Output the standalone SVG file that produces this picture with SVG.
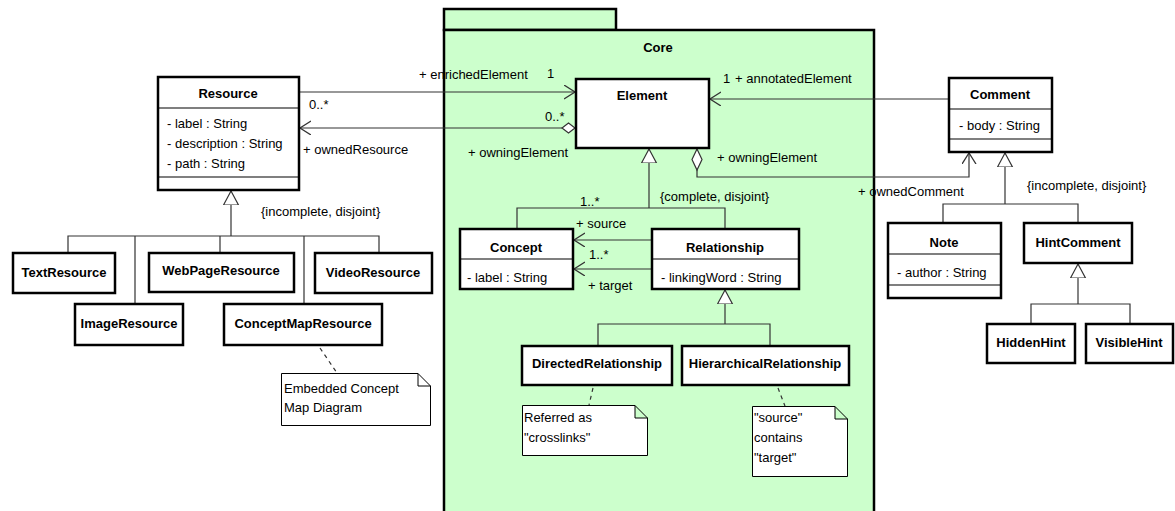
<svg xmlns="http://www.w3.org/2000/svg" width="1175" height="511" viewBox="0 0 1175 511">
  <style>
    .pkg { fill: #ccffcc; stroke: #000; stroke-width: 2.5; }
    .cls { fill: #fff; stroke: #000; stroke-width: 2.5; }
    .div { stroke: #000; stroke-width: 1.2; fill: none; }
    .note { fill: #fff; stroke: #000; stroke-width: 1; }
    .conn { fill: none; stroke: #333; stroke-width: 1.2; }
    .dash { fill: none; stroke: #333; stroke-width: 1.2; stroke-dasharray: 4 4; }
    text { font-family: "Liberation Sans", Arial, sans-serif; font-size: 13px; fill: #000; }
    .name { font-weight: bold; text-anchor: middle; }
  </style>
  <defs>
    <marker id="open" markerUnits="userSpaceOnUse" markerWidth="14" markerHeight="16" refX="11" refY="7" orient="auto" viewBox="0 0 14 16">
      <path d="M0,0 L11,7 L0,14" fill="none" stroke="#333" stroke-width="1.3"/>
    </marker>
    <marker id="gen" markerUnits="userSpaceOnUse" markerWidth="16" markerHeight="18" refX="14" refY="8" orient="auto" viewBox="0 0 16 18">
      <path d="M0,0.5 L14,8 L0,15.5 Z" fill="#fff" stroke="#333" stroke-width="1.2"/>
    </marker>
    <marker id="agg" markerUnits="userSpaceOnUse" markerWidth="16" markerHeight="14" refX="1" refY="6" orient="auto" viewBox="0 0 16 14">
      <path d="M1,6 L7.5,1 L14,6 L7.5,11 Z" fill="#fff" stroke="#333" stroke-width="1.2"/>
    </marker>
    <marker id="agg-long" markerUnits="userSpaceOnUse" markerWidth="24" markerHeight="14" refX="1" refY="6" orient="auto" viewBox="0 0 24 14">
      <path d="M1,6 L11.5,1 L22,6 L11.5,11 Z" fill="#fff" stroke="#333" stroke-width="1.2"/>
    </marker>
  </defs>

  <rect width="1175" height="511" fill="#fff"/>

  <!-- Core package -->
  <g id="core">
    <rect class="pkg" x="444" y="9" width="172" height="21"/>
    <rect class="pkg" x="444" y="30" width="430" height="495"/>
    <text class="name" x="658" y="52">Core</text>
  </g>

  <!-- connectors -->
  <g id="connectors">
    <!-- Resource -> Element (enrichedElement) -->
    <path class="conn" d="M300,92 H575" marker-end="url(#open)"/>
    <!-- Element owns Resource -->
    <path class="conn" d="M575,128 H300" marker-start="url(#agg)" marker-end="url(#open)"/>
    <!-- Comment -> Element (annotatedElement) -->
    <path class="conn" d="M948,99 H710" marker-end="url(#open)"/>
    <!-- Element owns Comment -->
    <path class="conn" d="M697,149 V177 H969 V153" marker-start="url(#agg-long)" marker-end="url(#open)"/>

    <!-- Resource generalization -->
    <path class="conn" d="M231,236 V191" marker-end="url(#gen)"/>
    <path class="conn" d="M68,252 V236 H379 V252 M135,236 V304 M220,236 V252 M304,236 V304"/>

    <!-- Comment generalization -->
    <path class="conn" d="M1005,204 V153" marker-end="url(#gen)"/>
    <path class="conn" d="M943,222 V204 H1078 V222"/>

    <!-- HintComment generalization -->
    <path class="conn" d="M1078,304 V264" marker-end="url(#gen)"/>
    <path class="conn" d="M1031,323 V304 H1130 V323"/>

    <!-- Element generalization -->
    <path class="conn" d="M649,208 V149" marker-end="url(#gen)"/>
    <path class="conn" d="M517,228 V208 H725 V228"/>

    <!-- Relationship -> Concept -->
    <path class="conn" d="M651,240 H574" marker-end="url(#open)"/>
    <path class="conn" d="M651,269 H574" marker-end="url(#open)"/>

    <!-- Relationship generalization -->
    <path class="conn" d="M725,324 V290" marker-end="url(#gen)"/>
    <path class="conn" d="M598,345 V324 H770 V345"/>

    <!-- note anchors -->
    <path class="dash" d="M320,348 L337,373"/>
    <path class="dash" d="M593,388 L589,405"/>
    <path class="dash" d="M778,388 L785,406"/>
  </g>

  <!-- association labels -->
  <g id="labels">
    <text x="419" y="79">+ enrichedElement</text>
    <text x="547" y="78">1</text>
    <text x="309" y="109">0..*</text>
    <text x="303" y="154">+ ownedResource</text>
    <text x="545" y="121">0..*</text>
    <text x="468" y="157">+ owningElement</text>
    <text x="672" y="136">0..*</text>
    <text x="723" y="83">1</text>
    <text x="735" y="83">+ annotatedElement</text>
    <text x="717" y="162">+ owningElement</text>
    <text x="981" y="143">*</text>
    <text x="858" y="196">+ ownedComment</text>
    <text x="1027" y="190">{incomplete, disjoint}</text>
    <text x="261" y="216">{incomplete, disjoint}</text>
    <text x="660" y="201">{complete, disjoint}</text>
    <text x="580" y="206">1..*</text>
    <text x="576" y="228">+ source</text>
    <text x="589" y="259">1..*</text>
    <text x="588" y="290">+ target</text>
  </g>

  <!-- Resource hierarchy -->
  <g id="resource">
    <rect class="cls" x="158" y="77" width="141" height="113"/>
    <line class="div" x1="158" y1="108" x2="299" y2="108"/>
    <line class="div" x1="158" y1="177" x2="299" y2="177"/>
    <text class="name" x="228" y="98">Resource</text>
    <text x="167" y="128">- label : String</text>
    <text x="167" y="148">- description : String</text>
    <text x="167" y="168">- path : String</text>
  </g>
  <g id="textresource">
    <rect class="cls" x="13" y="253" width="102" height="40"/>
    <text class="name" x="64" y="277">TextResource</text>
  </g>
  <g id="webpageresource">
    <rect class="cls" x="149" y="253" width="145" height="39"/>
    <text class="name" x="221" y="275">WebPageResource</text>
  </g>
  <g id="videoresource">
    <rect class="cls" x="315" y="253" width="117" height="40"/>
    <text class="name" x="373" y="277">VideoResource</text>
  </g>
  <g id="imageresource">
    <rect class="cls" x="75" y="304" width="108" height="41"/>
    <text class="name" x="129" y="328">ImageResource</text>
  </g>
  <g id="conceptmapresource">
    <rect class="cls" x="224" y="304" width="158" height="41"/>
    <text class="name" x="303" y="328">ConceptMapResource</text>
  </g>
  <g id="note-embedded">
    <path class="note" d="M281.5,373.5 H418 L430.5,386 V425.5 H281.5 Z M418,373.5 V386 H430.5"/>
    <text x="284" y="393">Embedded Concept</text>
    <text x="284" y="412">Map Diagram</text>
  </g>

  <!-- Core classes -->
  <g id="element">
    <rect class="cls" x="576" y="79" width="133" height="69"/>
    <text class="name" x="642" y="100">Element</text>
  </g>
  <g id="concept">
    <rect class="cls" x="460" y="229" width="113" height="60"/>
    <line class="div" x1="460" y1="259" x2="573" y2="259"/>
    <text class="name" x="516" y="252">Concept</text>
    <text x="467" y="282">- label : String</text>
  </g>
  <g id="relationship">
    <rect class="cls" x="652" y="229" width="147" height="60"/>
    <line class="div" x1="652" y1="259" x2="799" y2="259"/>
    <text class="name" x="725" y="252">Relationship</text>
    <text x="661" y="282">- linkingWord : String</text>
  </g>
  <g id="directedrelationship">
    <rect class="cls" x="522" y="346" width="150" height="39"/>
    <text class="name" x="597" y="368">DirectedRelationship</text>
  </g>
  <g id="hierarchicalrelationship">
    <rect class="cls" x="682" y="346" width="167" height="39"/>
    <text class="name" x="765" y="368">HierarchicalRelationship</text>
  </g>
  <g id="note-crosslinks">
    <path class="note" d="M522.5,405.5 H635 L647.5,418 V455.5 H522.5 Z M635,405.5 V418 H647.5"/>
    <text x="524" y="422">Referred as</text>
    <text x="524" y="442">"crosslinks"</text>
  </g>
  <g id="note-hierarchy">
    <path class="note" d="M752.5,406.5 H835 L847.5,419 V476.5 H752.5 Z M835,406.5 V419 H847.5"/>
    <text x="754" y="422">"source"</text>
    <text x="754" y="442">contains</text>
    <text x="754" y="462">"target"</text>
  </g>

  <!-- Comment hierarchy -->
  <g id="comment">
    <rect class="cls" x="949" y="78" width="103" height="74"/>
    <line class="div" x1="949" y1="109" x2="1052" y2="109"/>
    <line class="div" x1="949" y1="139" x2="1052" y2="139"/>
    <text class="name" x="1000" y="99">Comment</text>
    <text x="959" y="130">- body : String</text>
  </g>
  <g id="note">
    <rect class="cls" x="888" y="223" width="113" height="75"/>
    <line class="div" x1="888" y1="254" x2="1001" y2="254"/>
    <line class="div" x1="888" y1="285" x2="1001" y2="285"/>
    <text class="name" x="944" y="247">Note</text>
    <text x="897" y="277">- author : String</text>
  </g>
  <g id="hintcomment">
    <rect class="cls" x="1024" y="223" width="108" height="40"/>
    <text class="name" x="1078" y="247">HintComment</text>
  </g>
  <g id="hiddenhint">
    <rect class="cls" x="987" y="324" width="88" height="39"/>
    <text class="name" x="1031" y="347">HiddenHint</text>
  </g>
  <g id="visiblehint">
    <rect class="cls" x="1086" y="324" width="87" height="39"/>
    <text class="name" x="1129" y="347">VisibleHint</text>
  </g>
</svg>
